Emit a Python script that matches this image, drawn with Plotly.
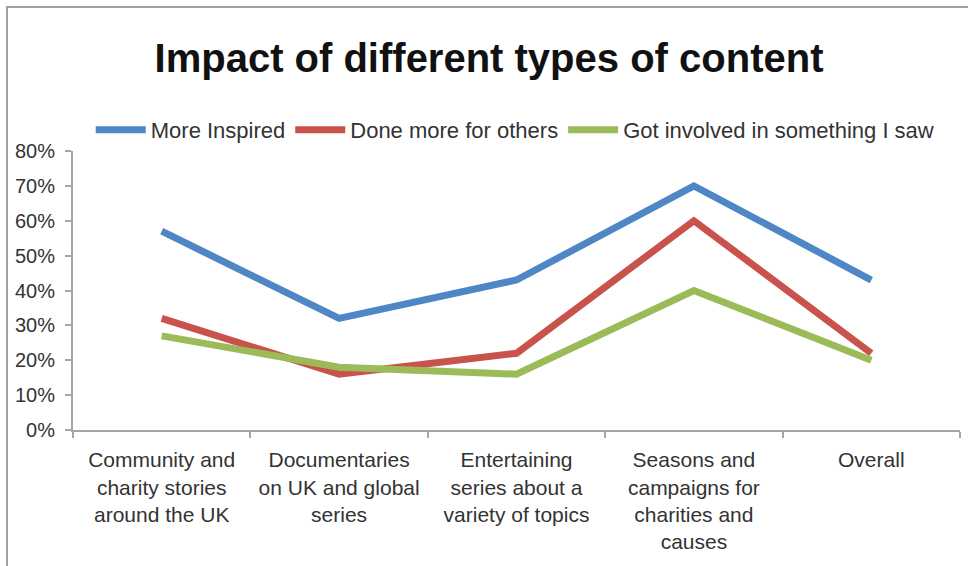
import plotly.graph_objects as go

# Content categories (line breaks as printed under the axis)
categories = [
    "Community and<br>charity stories<br>around the UK",
    "Documentaries<br>on UK and global<br>series",
    "Entertaining<br>series about a<br>variety of topics",
    "Seasons and<br>campaigns for<br>charities and<br>causes",
    "Overall",
]

# Share of respondents for each outcome
more_inspired = [0.57, 0.32, 0.43, 0.70, 0.43]
done_more_for_others = [0.32, 0.16, 0.22, 0.60, 0.22]
got_involved = [0.27, 0.18, 0.16, 0.40, 0.20]

series = [
    ("More Inspired", more_inspired, "#4F86C6"),
    ("Done more for others", done_more_for_others, "#C9524C"),
    ("Got involved in something I saw", got_involved, "#9BBB59"),
]

y_ticks = [0, 0.1, 0.2, 0.3, 0.4, 0.5, 0.6, 0.7, 0.8]

FONT = "Liberation Sans, Arial, sans-serif"

fig = go.Figure()
for name, values, color in series:
    fig.add_trace(go.Scatter(
        x=categories, y=values, name=name, mode="lines",
        line=dict(color=color, width=7),
    ))

W, H = 968, 566
L, R, T, B = 73, 8, 151, 136

fig.update_layout(
    width=W, height=H,
    margin=dict(l=L, r=R, t=T, b=B),
    paper_bgcolor="white", plot_bgcolor="white",
    font=dict(family=FONT, color="#333333"),
    title=dict(
        text="<b>Impact of different types of content</b>",
        font=dict(size=40, color="#111111", family=FONT),
        x=(489 - L) / (W - L - R), xanchor="center", xref="paper",
        y=1 - 58 / H, yanchor="middle", yref="container",
        automargin=False,
    ),
    showlegend=True,
    legend=dict(
        orientation="h", x=0.02, xanchor="left",
        y=(130 - T) * -1 / (H - T - B) + 1, yanchor="middle",
        font=dict(size=22, color="#333333"),
        itemwidth=50, tracegroupgap=0,
        bgcolor="rgba(0,0,0,0)",
    ),
    xaxis=dict(
        type="category", range=[-0.5, 4.5],
        showline=True, linecolor="#A6A6A6", linewidth=2,
        ticks="outside", tickson="boundaries", ticklen=6,
        tickcolor="#A6A6A6", tickwidth=2,
        showgrid=False, zeroline=False,
        tickangle=0, automargin=False,
        tickfont=dict(size=21, color="#333333"),
        ticklabelstandoff=10,
    ),
    yaxis=dict(
        range=[0, 0.8], tickvals=y_ticks, tickformat=".0%",
        showline=True, linecolor="#A6A6A6", linewidth=2,
        ticks="outside", ticklen=6, tickcolor="#A6A6A6", tickwidth=2,
        showgrid=False, zeroline=False, automargin=False,
        tickfont=dict(size=20, color="#333333"),
        ticklabelstandoff=6,
    ),
)

# Frame around the chart (top and left edges visible)
pw, ph = W - L - R, H - T - B
fig.add_shape(
    type="rect", xref="paper", yref="paper",
    x0=(7 - L) / pw, x1=(W + 20 - L) / pw,
    y0=-(H + 20 - (H - B)) / ph, y1=(H - B - 7) / ph,
    line=dict(color="#A0A0A0", width=2), fillcolor="rgba(0,0,0,0)",
    layer="below",
)

fig.write_html("out.html")
